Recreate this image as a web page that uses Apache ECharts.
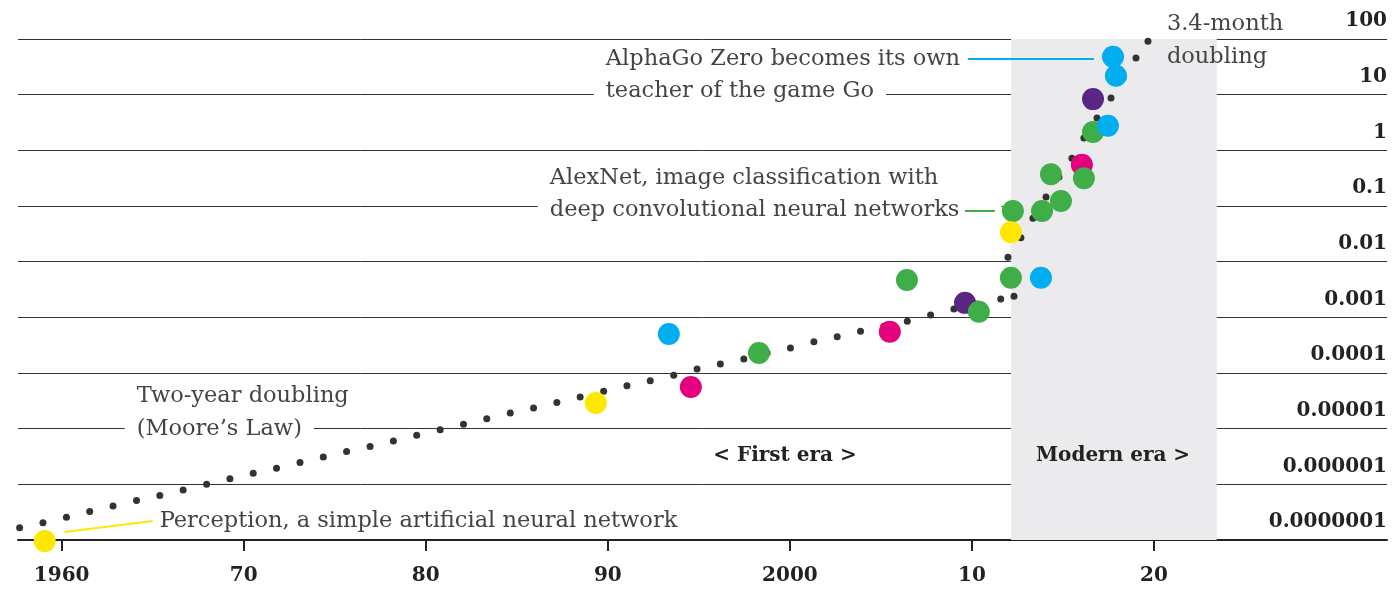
<!DOCTYPE html>
<html><head><meta charset="utf-8">
<script src="https://cdn.jsdelivr.net/npm/echarts@6/dist/echarts.min.js"></script>
<style>html,body{margin:0;padding:0;background:#fff}#c{width:1392px;height:591px}</style>
</head><body><div id="c"></div>
<script>
// ---- data ----
const xTickValues = [1960, 1970, 1980, 1990, 2000, 2010, 2020];
const xTickLabels = ['1960', '70', '80', '90', '2000', '10', '20'];
const yTickLabels = ['0.0000001', '0.000001', '0.00001', '0.0001', '0.001', '0.01', '0.1', '1', '10', '100'];

// trend dots (year, log10 of value)
const trendYears = [1957.69, 1958.97, 1960.26, 1961.54, 1962.82, 1964.11, 1965.39, 1966.67, 1967.96, 1969.24,
  1970.52, 1971.80, 1973.09, 1974.37, 1975.65, 1976.94, 1978.22, 1979.50, 1980.79, 1982.07,
  1983.35, 1984.64, 1985.92, 1987.20, 1988.48, 1989.77, 1991.05, 1992.33, 1993.62, 1994.90,
  1996.18, 1997.47, 1998.75, 2000.03, 2001.32, 2002.60, 2003.88, 2005.16, 2006.45, 2007.73,
  2009.01, 2010.30, 2011.58,
  2012.31, 2011.98, 2012.69, 2013.35, 2014.07, 2014.78, 2015.49, 2016.15, 2016.87, 2017.64, 2018.30, 2019.01, 2019.67];
const trendLog10 = [-6.78, -6.69, -6.59, -6.49, -6.39, -6.29, -6.20, -6.10, -6.00, -5.90,
  -5.80, -5.71, -5.61, -5.51, -5.41, -5.32, -5.22, -5.12, -5.02, -4.92,
  -4.82, -4.72, -4.63, -4.53, -4.43, -4.33, -4.23, -4.14, -4.04, -3.93,
  -3.84, -3.75, -3.64, -3.55, -3.44, -3.35, -3.25, -3.16, -3.07, -2.96,
  -2.85, -2.76, -2.67,
  -2.62, -1.92, -1.57, -1.22, -0.84, -0.48, -0.14, 0.22, 0.58, 0.94, 1.30, 1.66, 1.96];

// coloured systems (year, log10 of value, group)
const pointYears = [1959.07, 1989.34, 1993.35, 1994.56, 1998.30, 2005.49, 2006.43, 2009.62, 2010.38, 2012.14,
  2013.79, 2012.25, 2012.14, 2013.85, 2014.89, 2014.34, 2016.04, 2016.15, 2016.65, 2017.47, 2016.65, 2017.75, 2017.91];
const pointLog10 = [-7.02, -4.54, -3.30, -4.25, -3.64, -3.26, -2.33, -2.74, -2.90, -2.29,
  -2.29, -1.09, -1.47, -1.09, -0.91, -0.43, -0.26, -0.50, 0.33, 0.44, 0.92, 1.68, 1.34];
const pointGroups = ['g1', 'g1', 'g2', 'g3', 'g4', 'g3', 'g4', 'g5', 'g4', 'g4',
  'g2', 'g4', 'g1', 'g4', 'g4', 'g4', 'g3', 'g4', 'g4', 'g2', 'g5', 'g2', 'g2'];

const eraBounds = [2012.15, 2023.45];

const noteTexts = ['AlphaGo Zero becomes its own', 'teacher of the game Go',
  'AlexNet, image classification with', 'deep convolutional neural networks',
  'Two-year doubling', '(Moore\u2019s Law)',
  'Perception, a simple artificial neural network',
  '3.4-month', 'doubling',
  '< First era >', 'Modern era >'];

// ---- styles ----
const FONT = "'DejaVu Serif', serif";
const colorMap = { g1: '#FFE800', g2: '#00AEEF', g3: '#E5007D', g4: '#3FAE49', g5: '#5B2683' };
const toV = l => Math.pow(10, l);

const trendData = trendYears.map((y, i) => [y, toV(trendLog10[i])]);
const pointData = pointYears.map((y, i) => ({
  value: [y, toV(pointLog10[i])],
  itemStyle: { color: colorMap[pointGroups[i]], opacity: 1 }
}));

// annotation anchors in data space
const noteAnchors = [[1989.23, 1.64], [1989.23, 1.066], [1986.15, -0.497], [1986.15, -1.072],
  [1963.46, -4.413], [1963.46, -5.006], [1965.38, -6.658], [2020.71, 2.27], [2020.71, 1.68],
  [1999.73, -5.49], [2017.75, -5.49]];
const noteData = noteTexts.map((t, i) => {
  const knock = i < 6;
  const bold = i >= 9;
  return {
    value: [noteAnchors[i][0], toV(noteAnchors[i][1])],
    itemStyle: { opacity: 1 },
    label: {
      show: true,
      formatter: t,
      position: bold ? 'inside' : 'right',
      distance: 0,
      fontFamily: FONT,
      fontSize: bold ? 20 : 22.5,
      fontWeight: bold ? 'bold' : 'normal',
      color: bold ? '#222' : '#444',
      backgroundColor: knock ? '#fff' : 'transparent',
      padding: knock ? [2, i === 3 ? 42 : 12, 2, 12] : 0
    }
  };
});

function leader(a, b, color) {
  return {
    type: 'line', z: 4, silent: true, symbol: 'none', clip: false,
    lineStyle: { color: color, width: 2 },
    data: [[a[0], toV(a[1])], [b[0], toV(b[1])]]
  };
}

const chart = echarts.init(document.getElementById('c'));
chart.setOption({
  animation: false,
  grid: { left: 18, right: 5, top: 39, bottom: 51, containLabel: false },
  xAxis: {
    type: 'value', min: 1957.6, max: 2032.8,
    axisLine: { show: true, lineStyle: { color: '#222', width: 2 } },
    axisTick: { show: true, customValues: xTickValues, length: 11, lineStyle: { color: '#222', width: 2 } },
    axisLabel: {
      customValues: xTickValues, margin: 26,
      formatter: v => xTickLabels[xTickValues.indexOf(Math.round(v))] || '',
      fontFamily: FONT, fontSize: 20, fontWeight: 'bold', color: '#222'
    },
    splitLine: { show: false }
  },
  yAxis: {
    type: 'log', logBase: 10, min: 1e-7, max: 100, splitNumber: 9,
    position: 'right',
    axisLine: { show: false }, axisTick: { show: false },
    axisLabel: {
      inside: true, margin: 0, verticalAlign: 'bottom', padding: [0, 0, 8, 0],
      formatter: v => yTickLabels[Math.round(Math.log10(v)) + 7],
      fontFamily: FONT, fontSize: 20, fontWeight: 'bold', color: '#222'
    },
    splitLine: { show: true, showMinLine: true, showMaxLine: true, lineStyle: { color: '#333', width: 1 } }
  },
  series: [
    {
      type: 'scatter', z: -1, silent: true, data: [],
      markArea: {
        silent: true, itemStyle: { color: '#EBEBED' },
        data: [[{ xAxis: eraBounds[0], yAxis: 1e-7 }, { xAxis: eraBounds[1], yAxis: 100 }]]
      }
    },
    { type: 'scatter', z: 2, silent: true, symbolSize: 7, itemStyle: { color: '#333', opacity: 1 }, data: trendData },
    { type: 'scatter', z: 3, silent: true, symbolSize: 0, clip: false, itemStyle: { opacity: 1 }, data: noteData },
    leader([2009.78, 1.64], [2016.70, 1.64], colorMap.g2),
    leader([2009.62, -1.09], [2011.26, -1.09], colorMap.g4),
    leader([1960.16, -6.856], [1965.0, -6.658], colorMap.g1),
    { type: 'scatter', z: 5, silent: true, symbolSize: 22, clip: false, itemStyle: { opacity: 1 }, data: pointData }
  ]
});
</script>
</body></html>
